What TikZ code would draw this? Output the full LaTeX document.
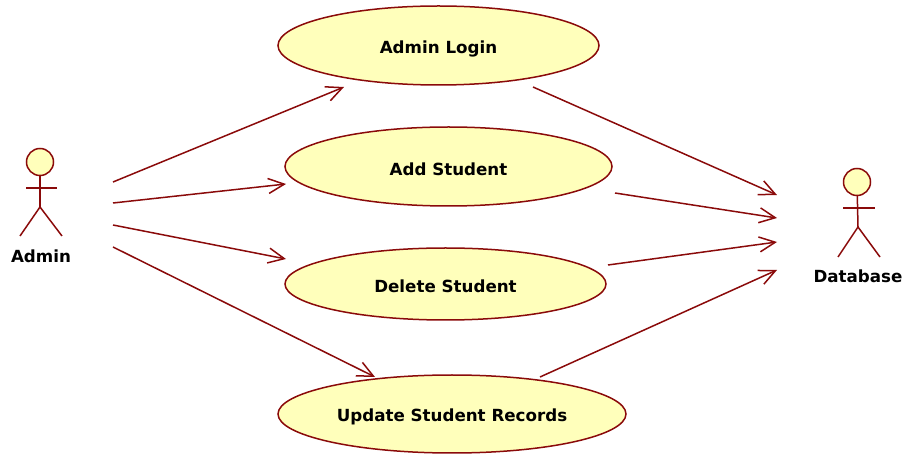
\documentclass[tikz,border=0pt]{standalone}
\usepackage{fontspec}
\setmainfont{DejaVu Sans}
\usetikzlibrary{arrows.meta,shapes.geometric}
\definecolor{umlline}{HTML}{8A0A0A}
\definecolor{umlfill}{HTML}{FFFFBB}
\newcommand{\lowertext}[2]{\raisebox{-#1pt}[\height][\depth]{#2}}
\tikzset{
  x=1pt,y=-1pt,
  usecase/.style={draw=umlline,fill=umlfill,ellipse,line width=1.5pt,inner sep=0pt,outer sep=0pt,font=\bfseries\fontsize{16.7}{20}\selectfont,text=black},
  actorhead/.style={draw=umlline,fill=umlfill,circle,line width=1.5pt,minimum size=27pt,inner sep=0pt,outer sep=0pt},
  actorline/.style={draw=umlline,line width=1.5pt},
  actorname/.style={font=\bfseries\fontsize{16.7}{20}\selectfont,text=black,inner sep=0pt},
  flow/.style={draw=umlline,line width=1.5pt,-{Straight Barb[length=16pt,width=15pt,line width=1.5pt]}},
}
\begin{document}
\begin{tikzpicture}
\useasboundingbox (0,0) rectangle (906,454);
\node[usecase,minimum width=321pt,minimum height=79pt] (login) at (438.5,45.5) {\lowertext{3.5}{Admin Login}};
\node[usecase,minimum width=327pt,minimum height=79pt] (add) at (448.5,166.5) {\lowertext{3}{Add Student}};
\node[usecase,minimum width=321pt,minimum height=72pt] (del) at (445.5,284) {\lowertext{2.5}{Delete Student}};
\node[usecase,minimum width=348pt,minimum height=78pt] (upd) at (452,414) {\lowertext{3}{Update Student Records}};
% Admin actor
\node[actorhead] (ah) at (40,162) {};
\coordinate (ahip) at (40,207);
\coordinate (aarml) at (26,188);
\coordinate (aarmr) at (57,188);
\coordinate (alegl) at (20,236);
\coordinate (alegr) at (62,236);
\draw[actorline] (ah) -- (ahip);
\draw[actorline] (aarml) -- (aarmr);
\draw[actorline] (alegl) -- (ahip) -- (alegr);
\node[actorname] (aname) at (41,256.5) {Admin};
% Database actor
\node[actorhead] (dh) at (857,182) {};
\coordinate (dhip) at (858,227);
\coordinate (darml) at (843,208);
\coordinate (darmr) at (875,208);
\coordinate (dlegl) at (838,257);
\coordinate (dlegr) at (880,257);
\draw[actorline] (dh) -- (dhip);
\draw[actorline] (darml) -- (darmr);
\draw[actorline] (dlegl) -- (dhip) -- (dlegr);
\node[actorname] (dname) at (858,276.5) {Database};
% connector ends
\coordinate (a1) at (113,182); \coordinate (l1) at (344,87);
\coordinate (a2) at (113,203); \coordinate (l2) at (286,184);
\coordinate (a3) at (113,225); \coordinate (l3) at (286,259);
\coordinate (a4) at (113,247); \coordinate (l4) at (375,377);
\coordinate (r1) at (533,87);  \coordinate (d1) at (777,195);
\coordinate (r2) at (615,193); \coordinate (d2) at (777,218);
\coordinate (r3) at (608,265); \coordinate (d3) at (777,242);
\coordinate (r4) at (540,377); \coordinate (d4) at (777,270);
\draw[flow] (a1) -- (l1);
\draw[flow] (a2) -- (l2);
\draw[flow] (a3) -- (l3);
\draw[flow] (a4) -- (l4);
\draw[flow] (r1) -- (d1);
\draw[flow] (r2) -- (d2);
\draw[flow] (r3) -- (d3);
\draw[flow] (r4) -- (d4);
\end{tikzpicture}
\end{document}
